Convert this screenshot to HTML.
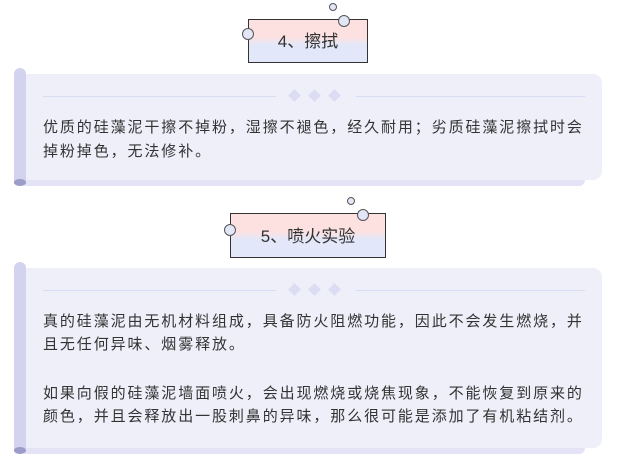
<!DOCTYPE html>
<html><head><meta charset="utf-8"><style>
body{margin:0;width:619px;height:461px;background:#fff;position:relative;overflow:hidden;font-family:"Liberation Sans","Noto Sans CJK SC",sans-serif;}
.box{position:absolute;border:1px solid #333;background:linear-gradient(#fde0e0 0,#fde0e0 40%,#e2e8fa 60%,#e2e8fa 100%);font-size:17px;color:#333;text-align:center;box-sizing:border-box;}
.c{position:absolute;border:1px solid #555;border-radius:50%;background:#e2e6f6;box-sizing:border-box;}
.bar{position:absolute;background:#d3d3f0;border-radius:6px 6px 0 0;width:12px;}
.panel{position:absolute;background:#efeffa;border-radius:9px;}
.strip{position:absolute;background:#e3e3f5;border-radius:0 0 6px 6px;}
.ell{position:absolute;width:12px;height:7px;border-radius:50%;background:#9c9cc8;}
.line{position:absolute;height:1px;background:#d6dcf4;}
.d{position:absolute;width:9px;height:9px;background:#dcdcf2;transform:rotate(45deg);}
.t{position:absolute;left:43px;font-size:15px;letter-spacing:1.9px;color:#333;white-space:nowrap;line-height:20px;}
</style></head><body>
<div class="box" style="left:248px;top:19px;width:120px;height:44px;line-height:44px;">4、擦拭</div>
<div class="c" style="left:242px;top:28px;width:12px;height:12px;"></div>
<div class="c" style="left:338px;top:15px;width:12px;height:12px;"></div>
<div class="c" style="left:329px;top:3px;width:8px;height:8px;"></div>

<div class="strip" style="left:20px;top:176px;width:565px;height:10px;"></div>
<div class="panel" style="left:20px;top:74px;width:582px;height:106px;"></div>
<div class="bar" style="left:14px;top:68px;height:116px;"></div>
<div class="ell" style="left:14px;top:179px;"></div>
<div class="line" style="left:43px;top:96px;width:233px;"></div>
<div class="line" style="left:356px;top:96px;width:229px;"></div>
<div class="d" style="left:290px;top:91px;"></div>
<div class="d" style="left:310px;top:91px;"></div>
<div class="d" style="left:330px;top:91px;"></div>
<div class="t" style="top:118px;">优质的硅藻泥干擦不掉粉，湿擦不褪色，经久耐用；劣质硅藻泥擦拭时会</div>
<div class="t" style="top:142px;">掉粉掉色，无法修补。</div>

<div class="box" style="left:230px;top:213px;width:156px;height:45px;line-height:45px;">5、喷火实验</div>
<div class="c" style="left:224px;top:224px;width:12px;height:12px;"></div>
<div class="c" style="left:357px;top:209px;width:12px;height:12px;"></div>
<div class="c" style="left:347px;top:197px;width:8px;height:8px;"></div>

<div class="strip" style="left:20px;top:442px;width:565px;height:12px;"></div>
<div class="panel" style="left:20px;top:268px;width:582px;height:180px;"></div>
<div class="bar" style="left:14px;top:262px;height:188px;"></div>
<div class="ell" style="left:14px;top:447px;"></div>
<div class="line" style="left:43px;top:290px;width:233px;"></div>
<div class="line" style="left:356px;top:290px;width:229px;"></div>
<div class="d" style="left:290px;top:285px;"></div>
<div class="d" style="left:310px;top:285px;"></div>
<div class="d" style="left:330px;top:285px;"></div>
<div class="t" style="top:312px;">真的硅藻泥由无机材料组成，具备防火阻燃功能，因此不会发生燃烧，并</div>
<div class="t" style="top:335px;">且无任何异味、烟雾释放。</div>
<div class="t" style="top:384px;">如果向假的硅藻泥墙面喷火，会出现燃烧或烧焦现象，不能恢复到原来的</div>
<div class="t" style="top:407px;">颜色，并且会释放出一股刺鼻的异味，那么很可能是添加了有机粘结剂。</div>
</body></html>
